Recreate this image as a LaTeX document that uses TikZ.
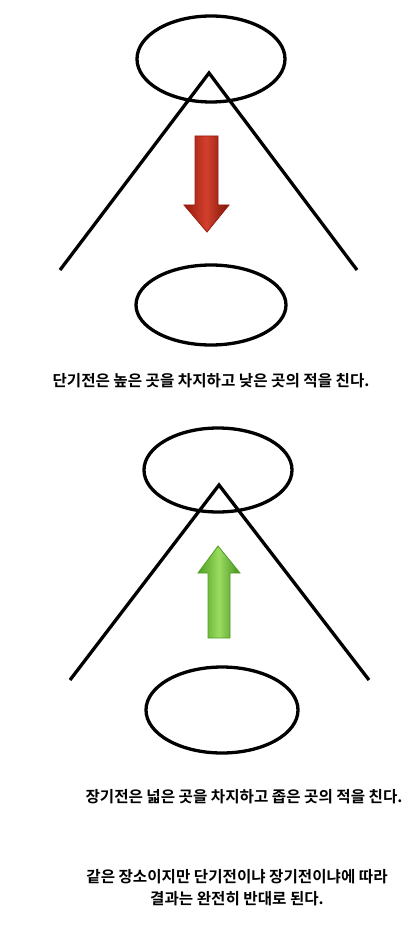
\documentclass[tikz,border=0pt]{standalone}
\usepackage{fontspec}
\newfontfamily\kr{Noto Sans CJK KR}[BoldFont={* Bold}]
\usetikzlibrary{shapes.geometric}
\definecolor{rdark}{HTML}{9A1A0C}
\definecolor{rmid}{HTML}{D2402C}
\definecolor{gdark}{HTML}{4E9E22}
\definecolor{gmid}{HTML}{9ADC60}
\tikzset{
  ell/.style={draw=black, line width=3.3pt, ellipse, inner sep=0pt},
  tri/.style={draw=black, line width=3.3pt, line join=miter},
  txt/.style={font=\kr\bfseries\fontsize{15.6}{18}\selectfont, inner sep=0pt, text=black},
  redarrow/.style={draw=rdark, line width=0.8pt, left color=rdark, right color=rdark!80!black, middle color=rmid},
  greenarrow/.style={draw=gdark, line width=0.8pt, left color=gdark, right color=gdark!90!black, middle color=gmid}
}
\begin{document}
\begin{tikzpicture}[x=1pt,y=-1pt]
\useasboundingbox[fill=white] (0,0) rectangle (415,925);
% top diagram
\node[ell, minimum width=148pt, minimum height=86pt] (e1) at (211,59) {};
\coordinate (a1) at (209,73);
\coordinate (l1) at (60,270);
\coordinate (r1) at (357,270);
\draw[tri] (l1) -- (a1) -- (r1);
\node[ell, minimum width=150pt, minimum height=80pt] (e2) at (211,305) {};
\path[redarrow] (195,136) -- (218,136) -- (218,205) -- (229,205) -- (207,232) -- (184,205) -- (195,205) -- cycle;
\node[txt] (t1) at (211,381) {단기전은 높은 곳을 차지하고 낮은 곳의 적을 친다.};
% bottom diagram
\node[ell, minimum width=148pt, minimum height=84pt] (e3) at (218,470) {};
\coordinate (a2) at (219,485);
\coordinate (l2) at (70,680);
\coordinate (r2) at (369,680);
\draw[tri] (l2) -- (a2) -- (r2);
\node[ell, minimum width=152pt, minimum height=86pt] (e4) at (222,710) {};
\path[greenarrow] (218,546) -- (240,573) -- (230,573) -- (230,638) -- (208,638) -- (208,573) -- (198,573) -- cycle;
\node[txt] (t2) at (244,797) {장기전은 넓은 곳을 차지하고 좁은 곳의 적을 친다.};
\node[txt] (t3) at (237,877) {같은 장소이지만 단기전이냐 장기전이냐에 따라};
\node[txt] (t4) at (237,899) {결과는 완전히 반대로 된다.};
\end{tikzpicture}
\end{document}
